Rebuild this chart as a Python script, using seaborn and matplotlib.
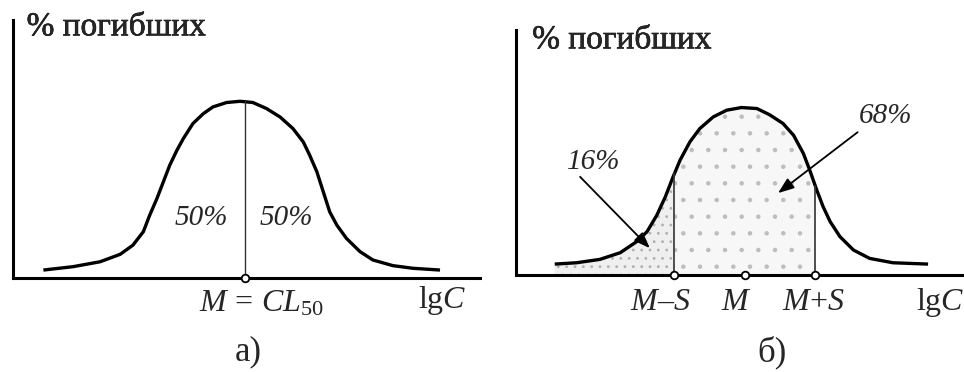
import numpy as np
import pandas as pd
import matplotlib
matplotlib.use("Agg")
import matplotlib.pyplot as plt
import matplotlib.patheffects as pe
import seaborn as sns

# ---- data (x in units of S around M, y in % of peak) ----
a_x = [-2.52, -2.15, -1.81, -1.56, -1.40, -1.27, -1.19, -1.10, -1.02, -0.94, -0.85, -0.77,
       -0.65, -0.52, -0.40, -0.23, -0.06, 0.10, 0.27, 0.44, 0.60, 0.73, 0.81, 0.90, 0.98,
       1.06, 1.15, 1.27, 1.44, 1.60, 1.85, 2.10, 2.44]
a_y = [4.5, 6.4, 9.2, 13.4, 18.6, 26.2, 35.6, 45.0, 54.4, 63.8, 72.3, 78.9,
       87.4, 93.0, 96.8, 99.3, 100.0, 99.3, 95.9, 91.1, 84.6, 77.0, 69.5, 60.1, 48.8,
       37.5, 29.9, 22.4, 14.9, 10.2, 7.0, 5.5, 4.5]

b_x = [-2.70, -2.39, -2.06, -1.77, -1.54, -1.39, -1.25, -1.13, -1.02, -0.92, -0.78, -0.64,
       -0.45, -0.26, -0.05, 0.17, 0.35, 0.54, 0.69, 0.83, 0.92, 1.02, 1.11, 1.21, 1.35,
       1.54, 1.77, 2.10, 2.60]
b_y = [6.5, 7.3, 9.3, 13.3, 19.8, 25.8, 35.7, 46.6, 58.5, 68.5, 79.4, 87.3,
       94.2, 98.2, 99.8, 99.2, 95.5, 90.3, 83.3, 72.4, 62.5, 50.6, 40.7, 31.8, 22.8,
       14.9, 9.9, 7.3, 6.5]

a_marks = [0.0]
a_mark_labels = [r"$M\,=\,CL_{\mathit{50}}$"]
b_marks = [-1.0, 0.0, 1.0]
b_mark_labels = [r"$M$–$S$", r"$M$", r"$M$+$S$"]
a_halves = ["50%", "50%"]
b_shares = ["16%", "68%"]
y_title = "% погибших"
x_title = r"lg$C$"
panel_labels = ["а)", "б)"]

# ---- style ----
sns.set_theme(style="white")
plt.rcParams["font.family"] = ["Liberation Serif", "DejaVu Serif"]
plt.rcParams["mathtext.fontset"] = "custom"
plt.rcParams["mathtext.rm"] = "Liberation Serif"
plt.rcParams["mathtext.it"] = "Liberation Serif:italic"
plt.rcParams["hatch.color"] = "#b8b8b8"
plt.rcParams["hatch.linewidth"] = 0.8

W, H = 964, 372
fig = plt.figure(figsize=(W / 100, H / 100), dpi=100)

def axes_at(l, r, b, t):
    return fig.add_axes([l / W, 1 - b / H, (r - l) / W, (b - t) / H])

ax_a = axes_at(13, 480, 278, 20)
ax_b = axes_at(516, 964, 275, 30)
ax_a.set_xlim(-2.9, 2.94); ax_a.set_ylim(0, 146)
ax_b.set_xlim(-3.25, 3.11); ax_b.set_ylim(0, 146)

for ax in (ax_a, ax_b):
    ax.set_xticks([]); ax.set_yticks([])
    ax.patch.set_alpha(0)
    for s in ("top", "right"):
        ax.spines[s].set_visible(False)
    for s in ("left", "bottom"):
        ax.spines[s].set_color("black")
        ax.spines[s].set_linewidth(2.2)

title_fx = [pe.withStroke(linewidth=0.45, foreground="black")]

# ---- panel a ----
da = pd.DataFrame({"x": a_x, "y": a_y})
sns.lineplot(data=da, x="x", y="y", ax=ax_a, color="black", lw=2.4, sort=False,
             solid_joinstyle="round", solid_capstyle="butt")
peak_a = max(a_y)
ax_a.plot([a_marks[0], a_marks[0]], [0, peak_a], color="#333333", lw=1.0)
ax_a.scatter(a_marks, [0] * len(a_marks), s=30, facecolor="white", edgecolor="black",
             linewidth=1.3, zorder=5, clip_on=False)
ax_a.text(-0.55, 34, a_halves[0], fontsize=21, style="italic", ha="center", va="center")
ax_a.text(0.52, 34, a_halves[1], fontsize=21, style="italic", ha="center", va="center")
ax_a.text(0.21, -14.5, a_mark_labels[0], fontsize=23, ha="center", va="center")
ax_a.text(2.47, -13.0, x_title, fontsize=23, ha="center", va="center")
ax_a.text(-2.73, 142, y_title, fontsize=24, ha="left", va="center", path_effects=title_fx)
ax_a.set_xlabel(""); ax_a.set_ylabel("")

# ---- panel b ----
bx = np.array(b_x); by = np.array(b_y)
h_lo = np.interp(b_marks[0], bx, by)
h_hi = np.interp(b_marks[2], bx, by)
m1 = bx < b_marks[0]
x1 = np.r_[bx[m1], b_marks[0]]; y1 = np.r_[by[m1], h_lo]
m2 = (bx > b_marks[0]) & (bx < b_marks[2])
x2 = np.r_[b_marks[0], bx[m2], b_marks[2]]; y2 = np.r_[h_lo, by[m2], h_hi]
ax_b.fill_between(x1, 0, y1, facecolor="#efefef", edgecolor="#b0b0b0", hatch="..", lw=0)
ax_b.fill_between(x2, 0, y2, facecolor="#f7f7f7", edgecolor="#bdbdbd", hatch=".", lw=0)

db = pd.DataFrame({"x": b_x, "y": b_y})
sns.lineplot(data=db, x="x", y="y", ax=ax_b, color="black", lw=2.4, sort=False,
             solid_joinstyle="round", solid_capstyle="butt")
ax_b.plot([b_marks[0]] * 2, [0, h_lo], color="#333333", lw=1.2)
ax_b.plot([b_marks[2]] * 2, [0, h_hi], color="#333333", lw=1.2)
ax_b.scatter(b_marks, [0] * len(b_marks), s=30, facecolor="white", edgecolor="black",
             linewidth=1.3, zorder=5, clip_on=False)
for xm, lab, dx in zip(b_marks, b_mark_labels, [-0.2, -0.12, -0.03]):
    ax_b.text(xm + dx, -16.5, lab, fontsize=23, ha="center", va="center")
ax_b.text(2.78, -16.5, x_title, fontsize=23, ha="center", va="center")
ax_b.text(-3.02, 140, y_title, fontsize=24, ha="left", va="center", path_effects=title_fx)
ax_b.set_xlabel(""); ax_b.set_ylabel("")

ax_b.annotate("", xy=(-1.35, 16.0), xytext=(-2.34, 58.5),
              arrowprops=dict(arrowstyle="-|>,head_length=0.8,head_width=0.3",
                              color="black", lw=1.3, shrinkA=0, shrinkB=0))
ax_b.text(-2.14, 67.5, b_shares[0], fontsize=21, style="italic", ha="center", va="center")
ax_b.annotate("", xy=(0.47, 48.8), xytext=(1.60, 85.1),
              arrowprops=dict(arrowstyle="-|>,head_length=0.8,head_width=0.3",
                              color="black", lw=1.3, shrinkA=0, shrinkB=0))
ax_b.text(1.99, 94.6, b_shares[1], fontsize=21, style="italic", ha="center", va="center")

fig.text(248 / W, 1 - 352 / H, panel_labels[0], fontsize=25, ha="center", va="center")
fig.text(772 / W, 1 - 352 / H, panel_labels[1], fontsize=25, ha="center", va="center")

fig.savefig("out.png", dpi=100, facecolor="white")
